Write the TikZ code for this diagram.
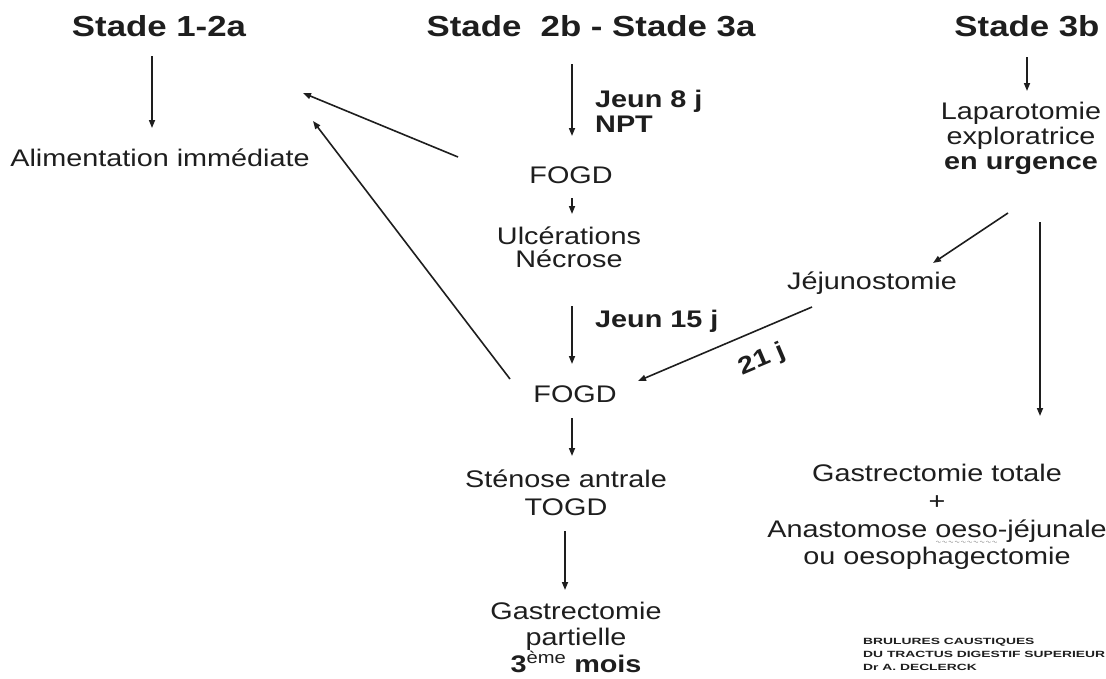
\documentclass[tikz,border=0pt]{standalone}
\usepackage{fontspec}
\setmainfont[FakeStretch=1.2]{Liberation Sans}
\newfontfamily\dvs{DejaVu Sans}
\usetikzlibrary{arrows.meta}
\definecolor{ink}{HTML}{1E1E1E}
\newcommand\graywave[1]{\setbox0=\hbox{#1}\rlap{\raisebox{-6pt}{\resizebox{\wd0}{2.2pt}{\color{gray}\dvs ∿∿∿∿∿∿∿∿∿∿}}}\box0}
\begin{document}
\begin{tikzpicture}[x=1pt,y=-1pt,
  txt/.style={inner sep=0pt, text=ink, font=\fontsize{24}{27}\selectfont, align=center},
  head/.style={inner sep=0pt, text=ink, font=\fontsize{29}{33}\selectfont\bfseries},
  lbl/.style={inner sep=0pt, text=ink, font=\fontsize{24}{25}\selectfont\bfseries, align=left},
  arr/.style={draw=ink, line width=1.6pt, -{Triangle[length=8pt,width=6pt]}},
]
\useasboundingbox (0,0) rectangle (1106,678);
\fill[white] (0,0) rectangle (1106,678);

% headings
\node[head, anchor=base] (h1) at (159,36) {Stade 1-2a};
\node[head, anchor=base] (h2) at (591,36) {Stade~~2b - Stade 3a};
\node[head, anchor=base] (h3) at (1027,36) {Stade 3b};

% left column
\node[txt, anchor=base] (alim) at (160,166) {Alimentation immédiate};

% middle column
\node[lbl, anchor=west] (j8) at (595,111) {Jeun 8 j\\NPT};
\node[txt, anchor=base] (fogd1) at (571,183) {FOGD};
\node[txt, font=\fontsize{24}{23}\selectfont] (ulc) at (569,247) {Ulcérations\\Nécrose};
\node[lbl, anchor=base west] (j15) at (595,327) {Jeun 15 j};
\node[txt, anchor=base] (fogd2) at (575,402) {FOGD};
\node[txt, font=\fontsize{24}{28}\selectfont] (sten) at (566,493) {Sténose antrale\\TOGD};
\node[txt, font=\fontsize{24}{26.5}\selectfont] (gp) at (576,637) {Gastrectomie\\partielle\\\textbf{3}\textsuperscript{ème} \textbf{mois}};

% right column
\node[txt, font=\fontsize{24}{25}\selectfont] (lap) at (1021,138) {Laparotomie\\exploratrice\\\textbf{en urgence}};
\node[txt, anchor=base] (jej) at (872,289) {Jéjunostomie};
\node[txt, font=\fontsize{24}{27.7}\selectfont] (gt) at (937,517) {Gastrectomie totale\\+\\Anastomose \graywave{oeso}-jéjunale\\ou oesophagectomie};

% credit
\node[anchor=north west, inner sep=0pt, text=ink, align=left, font=\fontsize{9}{13}\selectfont\bfseries] (cr) at (863,638)
  {\scalebox{1.28}[1]{BRULURES CAUSTIQUES}\\\scalebox{1.28}[1]{DU TRACTUS DIGESTIF SUPERIEUR}\\\scalebox{1.28}[1]{Dr A. DECLERCK}};

% connector end points
\coordinate (a1s) at (152,56);   \coordinate (a1e) at (152,128);
\coordinate (a2s) at (572,64);   \coordinate (a2e) at (572,136);
\coordinate (a3s) at (572,198);  \coordinate (a3e) at (572,214);
\coordinate (a4s) at (572,306);  \coordinate (a4e) at (572,364);
\coordinate (a5s) at (572,418);  \coordinate (a5e) at (572,456);
\coordinate (a6s) at (565,531);  \coordinate (a6e) at (565,590);
\coordinate (a7s) at (1027,57);  \coordinate (a7e) at (1027,91);
\coordinate (a8s) at (1008,213); \coordinate (a8e) at (933,263);
\coordinate (a9s) at (1040,222); \coordinate (a9e) at (1040,416);
\coordinate (a10s) at (812,307); \coordinate (a10e) at (638,381);
\coordinate (a11s) at (458,157); \coordinate (a11e) at (303,93);
\coordinate (a12s) at (510,379); \coordinate (a12e) at (313,121);

\draw[arr] (a1s) -- (a1e);
\draw[arr] (a2s) -- (a2e);
\draw[arr] (a3s) -- (a3e);
\draw[arr] (a4s) -- (a4e);
\draw[arr] (a5s) -- (a5e);
\draw[arr] (a6s) -- (a6e);
\draw[arr] (a7s) -- (a7e);
\draw[arr] (a8s) -- (a8e);
\draw[arr] (a9s) -- (a9e);
\draw[arr] (a10s) -- (a10e);
\node[rotate=23, inner sep=0pt, text=ink, font=\fontsize{24}{24}\selectfont\bfseries] (l21) at (762,360) {21 j};
\draw[arr] (a11s) -- (a11e);
\draw[arr] (a12s) -- (a12e);
\end{tikzpicture}
\end{document}
